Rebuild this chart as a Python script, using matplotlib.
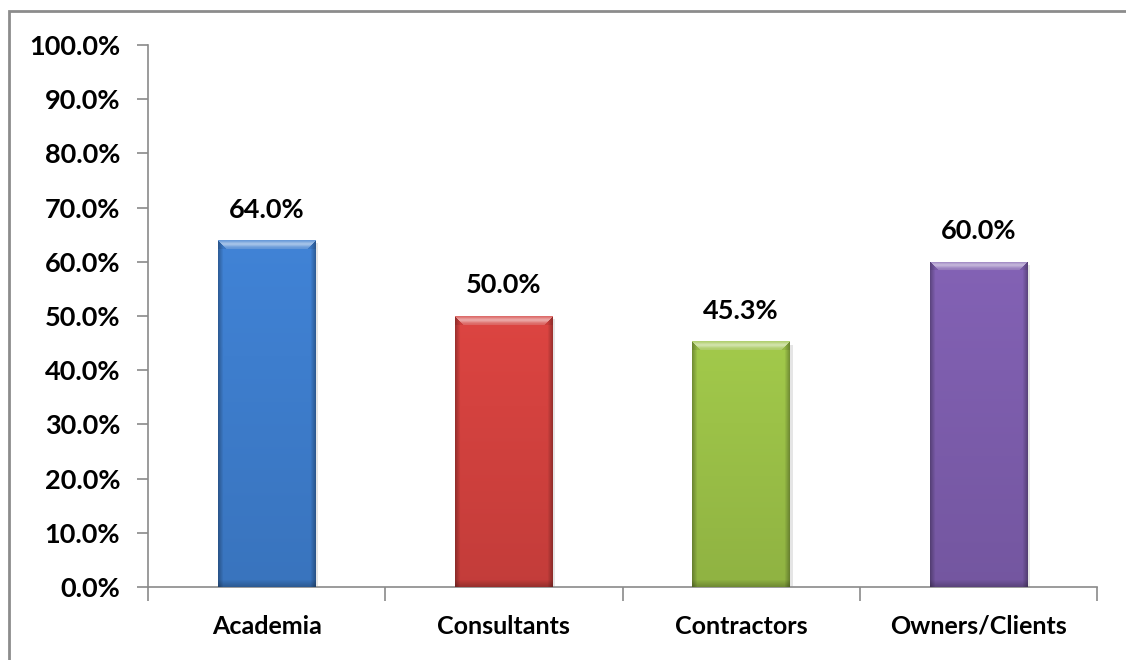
import numpy as np
import matplotlib
matplotlib.use("Agg")
import matplotlib.pyplot as plt
from matplotlib.lines import Line2D
from matplotlib.patches import Rectangle
from matplotlib.ticker import FixedLocator, FuncFormatter

categories = ["Academia", "Consultants", "Contractors", "Owners/Clients"]
values = [64.0, 50.0, 45.3, 60.0]
bar_colors = [(62, 126, 206), (212, 66, 63), (156, 194, 72), (126, 94, 174)]
y_ticks = [0, 10, 20, 30, 40, 50, 60, 70, 80, 90, 100]

plt.rcParams["font.family"] = ["Lato", "DejaVu Sans"]
plt.rcParams["font.weight"] = "bold"

W, H, DPI = 1126, 660, 100
fig = plt.figure(figsize=(W / DPI, H / DPI), dpi=DPI)
fig.patch.set_facecolor("white")
ax = fig.add_axes([148 / W, 1 - 587 / H, (1097 - 148) / W, (587 - 45) / H])

x = np.arange(len(categories))
bar_w = 0.41
bars = ax.bar(x, values, width=bar_w, color="none", edgecolor="none", zorder=3)

ax.set_xlim(-0.5, len(categories) - 0.5)
ax.set_ylim(0, 100)

axis_grey = "#8a8a8a"
for side in ("top", "right"):
    ax.spines[side].set_visible(False)
for side in ("left", "bottom"):
    ax.spines[side].set_color(axis_grey)
    ax.spines[side].set_linewidth(1.2)

ax.yaxis.set_major_locator(FixedLocator(y_ticks))
ax.yaxis.set_major_formatter(FuncFormatter(lambda v, p: f"{v:.1f}%"))
ax.tick_params(axis="y", length=8, width=1.2, color=axis_grey, pad=12,
               labelsize=19.5, labelcolor="black")
ax.set_xticks(x)
ax.set_xticklabels(categories)
ax.tick_params(axis="x", which="major", length=0, pad=20, labelsize=18)
ax.xaxis.set_minor_locator(FixedLocator(np.arange(len(categories) + 1) - 0.5))
ax.tick_params(axis="x", which="minor", length=10, width=1.2, color=axis_grey)
for lab in ax.get_xticklabels() + ax.get_yticklabels():
    lab.set_fontweight("bold")

fig.canvas.draw()
renderer = fig.canvas.get_renderer()


def bevel_image(rgb, wpx, hpx):
    """Shaded face of a bevelled bar: light top bevel, dark sides and base."""
    base = np.array(rgb, dtype=float) / 255.0
    yy, xx = np.mgrid[0:hpx, 0:wpx].astype(float)
    # soft vertical fade: slightly lighter at the top, darker at the base
    t = yy / max(hpx - 1, 1)
    shade = 1.04 - 0.12 * t
    img = base[None, None, :] * shade[..., None]
    # side darkening
    dl = xx
    dr = (wpx - 1) - xx
    side = np.minimum(dl, dr)
    side_k = np.clip(1 - side / 5.0, 0, 1)
    img = img * (1 - 0.28 * side_k[..., None])
    # bottom bevel
    db = (hpx - 1) - yy
    bot_k = np.clip(1 - db / 7.0, 0, 1)
    img = img * (1 - 0.22 * bot_k[..., None])
    # top bevel with diagonal corners
    bevel = 9.0
    top_zone = (yy < bevel) & (yy <= dl) & (yy <= dr)
    prof = np.exp(-((yy - 3.5) / 2.5) ** 2)
    lighter = base + (1 - base) * (0.18 + 0.35 * prof[..., None])
    img = np.where(top_zone[..., None], lighter, img)
    # corner facets on the sides within the bevel
    corner = (yy < bevel) & ~top_zone
    img = np.where(corner[..., None], img * 0.92, img)
    return np.clip(img, 0, 1)


for rect, rgb in zip(bars, bar_colors):
    bb = rect.get_window_extent(renderer)
    wpx = max(int(round(bb.width)), 2)
    hpx = max(int(round(bb.height)), 2)
    x0, y0 = rect.get_x(), rect.get_y()
    x1, y1 = x0 + rect.get_width(), y0 + rect.get_height()
    # faint drop shadow
    sh = Rectangle((x0 + 0.012, y0), rect.get_width(), rect.get_height() - 0.6,
                   facecolor=(0, 0, 0, 0.10), edgecolor="none", zorder=2)
    ax.add_patch(sh)
    img = bevel_image(rgb, wpx, hpx)
    im = ax.imshow(img, extent=(x0, x1, y0, y1), origin="upper",
                   aspect="auto", interpolation="bilinear", zorder=3)
    im.set_clip_path(rect)

ax.set_xlim(-0.5, len(categories) - 0.5)
ax.set_ylim(0, 100)

for xi, v in zip(x, values):
    ax.annotate(f"{v:.1f}%", (xi, v), xytext=(0, 22), textcoords="offset points",
                ha="center", va="center", fontsize=19.5, fontweight="bold",
                color="black", zorder=5)

# outer chart frame: only the left and top edges fall inside the canvas
fx, fy = 8.5 / W, 1 - 10.5 / H
fig.add_artist(Line2D([fx, fx, 1.05], [-0.05, fy, fy], transform=fig.transFigure,
                      color="#8c8c8c", linewidth=2.0, solid_joinstyle="miter"))

fig.savefig("out.png", dpi=DPI, facecolor="white")
